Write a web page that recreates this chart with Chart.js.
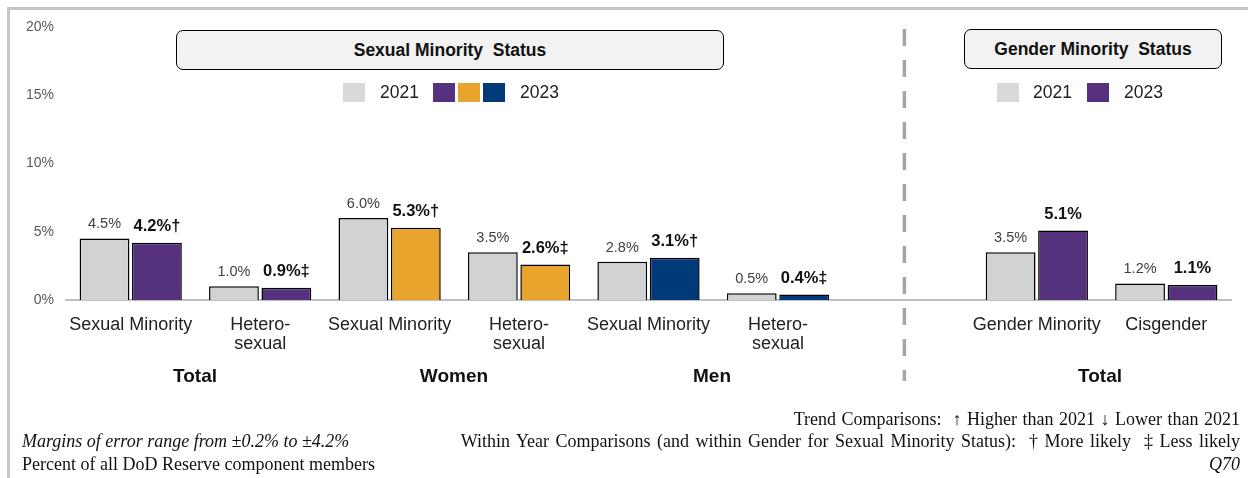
<!DOCTYPE html>
<html>
<head>
<meta charset="utf-8">
<script src="https://cdn.jsdelivr.net/npm/chart.js@4.4.1/dist/chart.umd.min.js"></script>
<style>
  html, body { margin: 0; padding: 0; background: #fff; overflow: hidden; }
  #wrap { position: relative; width: 1248px; height: 478px; font-family: "Liberation Sans", Arial, sans-serif; }
  #frame { position: absolute; left: 7px; top: 7px; width: 1300px; height: 520px; border-left: 3px solid #c6c6c6; border-top: 3px solid #c6c6c6; }
  canvas { position: absolute; left: 0; top: 0; }
  .head { position: absolute; box-sizing: border-box; background: #f2f2f2; border: 1.5px solid #000; border-radius: 7px;
          font-weight: bold; font-size: 17.5px; color: #111; display: flex; align-items: center; justify-content: center; }
  .legend { position: absolute; display: flex; align-items: center; font-size: 17.5px; color: #222; }
  .sw { display: inline-block; width: 22px; height: 19px; }
  .group { position: absolute; top: 365px; width: 160px; margin-left: -80px; text-align: center; font-weight: bold; font-size: 19px; color: #111; }
  .foot { position: absolute; font-family: "Liberation Serif", "Times New Roman", serif; font-size: 18px; color: #111; white-space: nowrap; }
</style>
</head>
<body>
<div id="wrap">
  <div id="frame"></div>
  <canvas id="chart" width="1248" height="478"></canvas>

  <div class="head" style="left:176px; top:30px; width:548px; height:40px;">Sexual Minority&nbsp; Status</div>
  <div class="head" style="left:964px; top:29px; width:258px; height:40px;">Gender Minority&nbsp; Status</div>

  <div class="legend" style="left:343px; top:82px;">
    <span class="sw" style="background:#d9d9d9"></span>
    <span style="margin:0 14px 0 15px">2021</span>
    <span class="sw" style="background:#55317e"></span>
    <span class="sw" style="background:#e8a42c; margin-left:3px"></span>
    <span class="sw" style="background:#003a78; margin-left:3px"></span>
    <span style="margin-left:15px">2023</span>
  </div>
  <div class="legend" style="left:997px; top:82px;">
    <span class="sw" style="background:#d9d9d9"></span>
    <span style="margin:0 15px 0 14px">2021</span>
    <span class="sw" style="background:#55317e"></span>
    <span style="margin-left:15px">2023</span>
  </div>

  <div class="group" style="left:195px">Total</div>
  <div class="group" style="left:454px">Women</div>
  <div class="group" style="left:712px">Men</div>
  <div class="group" style="left:1100px">Total</div>

  <div class="foot" style="left:22px; top:431px; font-style:italic;">Margins of error range from ±0.2% to ±4.2%</div>
  <div class="foot" style="left:22px; top:454px;">Percent of all DoD Reserve component members</div>
  <div class="foot" style="right:8px; top:409px; word-spacing:1px;">Trend Comparisons:&nbsp; ↑ Higher than 2021 ↓ Lower than 2021</div>
  <div class="foot" style="right:8px; top:431px; word-spacing:2px;">Within Year Comparisons (and within Gender for Sexual Minority Status):&nbsp; † More likely&nbsp; ‡ Less likely</div>
  <div class="foot" style="right:8px; top:454px; font-style:italic;">Q70</div>
</div>

<script>
// categories (blank slot separates sexual and gender minority panels)
const categories = [
  ['Sexual Minority'], ['Hetero-', 'sexual'],
  ['Sexual Minority'], ['Hetero-', 'sexual'],
  ['Sexual Minority'], ['Hetero-', 'sexual'],
  [''],
  ['Gender Minority'], ['Cisgender']
];
const values2021 = [4.5, 1.0, 6.0, 3.5, 2.8, 0.5, null, 3.5, 1.2];
const values2023 = [4.2, 0.9, 5.3, 2.6, 3.1, 0.4, null, 5.1, 1.1];
const marks2023 = ['†', '‡', '†', '‡', '†', '‡', '', '', ''];
const colors2023 = ['#55317e', '#55317e', '#e8a42c', '#e8a42c', '#003a78', '#003a78', '#55317e', '#55317e', '#55317e'];
const yTicks = [0, 5, 10, 15, 20];

const FONT = '"Liberation Sans", Arial, sans-serif';

// value labels above each bar
const barLabels = {
  id: 'barLabels',
  afterDatasetsDraw(chart) {
    const ctx = chart.ctx;
    ctx.save();
    ctx.textAlign = 'center';
    ctx.textBaseline = 'bottom';
    chart.data.datasets.forEach((ds, di) => {
      chart.getDatasetMeta(di).data.forEach((bar, i) => {
        const v = ds.data[i];
        if (v === null) return;
        if (di === 0) {
          ctx.font = '14.5px ' + FONT;
          ctx.fillStyle = '#404040';
          ctx.fillText(v.toFixed(1) + '%', bar.x, bar.y - 7);
        } else {
          ctx.font = 'bold 16.5px ' + FONT;
          ctx.fillStyle = '#111';
          ctx.fillText(v.toFixed(1) + '%' + marks2023[i], bar.x, bar.y - 8);
        }
      });
    });
    ctx.restore();
  }
};

// dashed divider between the two panels
const divider = {
  id: 'divider',
  beforeDatasetsDraw(chart) {
    const ctx = chart.ctx;
    const x = chart.scales.x.getPixelForValue(6) - 3;
    ctx.save();
    ctx.strokeStyle = '#a6a6a6';
    ctx.lineWidth = 3.5;
    ctx.setLineDash([17, 14]);
    ctx.beginPath();
    ctx.moveTo(x, 29);
    ctx.lineTo(x, 381);
    ctx.stroke();
    ctx.restore();
  }
};

new Chart(document.getElementById('chart'), {
  type: 'bar',
  data: {
    labels: categories,
    datasets: [
      {
        label: '2021',
        data: values2021,
        backgroundColor: '#d1d2d4',
        borderColor: '#000',
        borderWidth: 1.5,
        categoryPercentage: 0.81,
        barPercentage: 0.95
      },
      {
        label: '2023',
        data: values2023,
        backgroundColor: colors2023,
        borderColor: '#000',
        borderWidth: 1.5,
        categoryPercentage: 0.81,
        barPercentage: 0.95
      }
    ]
  },
  options: {
    responsive: false,
    animation: false,
    layout: { padding: { left: 0, right: 17, top: 27, bottom: 0 } },
    plugins: {
      legend: { display: false },
      tooltip: { enabled: false }
    },
    scales: {
      x: {
        grid: { display: false, drawTicks: false },
        border: { display: true, color: '#bfbfbf', width: 2 },
        ticks: {
          color: '#222',
          font: { family: FONT, size: 18, lineHeight: 1.05 },
          padding: 16,
          maxRotation: 0,
          autoSkip: false
        },
        afterFit(scale) { scale.height = 178; }
      },
      y: {
        min: 0,
        max: 20,
        grid: { display: false, drawTicks: false },
        border: { display: false },
        afterBuildTicks(scale) { scale.ticks = yTicks.map(v => ({ value: v })); },
        ticks: {
          color: '#595959',
          font: { family: FONT, size: 14 },
          padding: 12,
          callback: v => v + '%'
        },
        afterFit(scale) { scale.width = 66; }
      }
    }
  },
  plugins: [divider, barLabels]
});
</script>
</body>
</html>
